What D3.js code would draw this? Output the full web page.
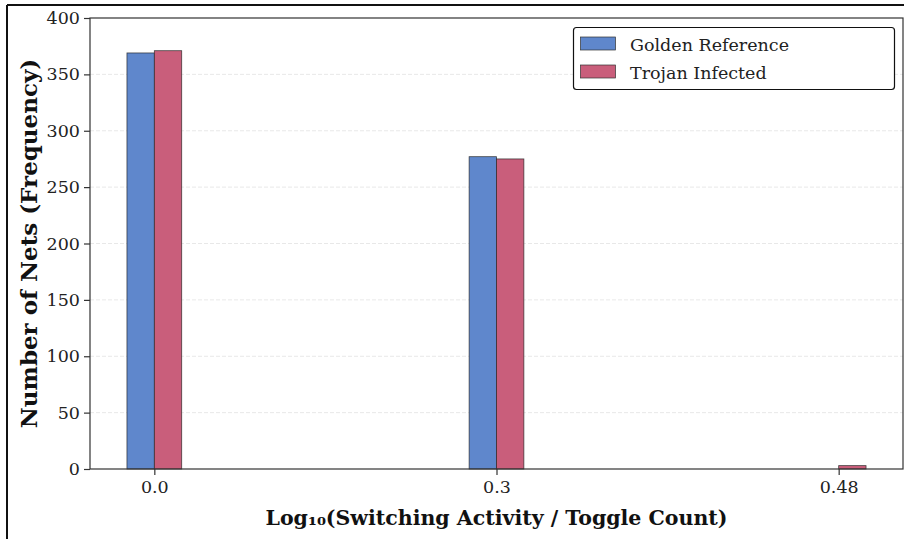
<!DOCTYPE html>
<html>
<head>
<meta charset="utf-8">
<script src="https://cdn.jsdelivr.net/npm/d3@7"></script>
<style>
  html, body { margin: 0; padding: 0; background: #fff; }
  svg { display: block; }
</style>
</head>
<body>
<svg id="chart" width="904" height="539"></svg>
<script>
const categories = ["0.0", "0.3", "0.48"];
const seriesNames = ["Golden Reference", "Trojan Infected"];
const goldenValues = [369, 277, 0];
const trojanValues = [371, 275, 3];
const yTicks = [0, 50, 100, 150, 200, 250, 300, 350, 400];
const colors = ["#5f87cc", "#c95e7b"];

const svg = d3.select("#chart");
const W = 904, H = 539;
const m = { left: 90, top: 18, right: 903, bottom: 469 };
const font = "'DejaVu Serif', serif";

// outer frame (cropped image border)
svg.append("line").attr("x1", 7).attr("x2", W).attr("y1", 5).attr("y2", 5)
  .attr("stroke", "#111").attr("stroke-width", 2);
svg.append("line").attr("x1", 7).attr("x2", 7).attr("y1", 5).attr("y2", H)
  .attr("stroke", "#111").attr("stroke-width", 2);

const x = d3.scaleLinear().domain([-0.188, 2.188]).range([m.left, m.right]);
const y = d3.scaleLinear().domain([0, 400]).range([m.bottom, m.top]);
const barW = 0.08;

// grid
svg.append("g").selectAll("line").data(yTicks.filter(d => d > 0 && d < 400)).join("line")
  .attr("x1", m.left).attr("x2", m.right)
  .attr("y1", d => y(d)).attr("y2", d => y(d))
  .attr("stroke", "#e2e2e2").attr("stroke-width", 0.8).attr("stroke-dasharray", "4,2");

// bars
const series = [goldenValues, trojanValues];
series.forEach((vals, si) => {
  svg.append("g").selectAll("rect").data(vals).join("rect")
    .attr("x", (d, i) => x(si === 0 ? i - barW : i))
    .attr("width", x(barW) - x(0))
    .attr("y", d => y(d))
    .attr("height", d => y(0) - y(d))
    .attr("fill", colors[si])
    .attr("stroke", d => d > 0 ? "#222" : "none")
    .attr("stroke-opacity", 0.8)
    .attr("stroke-width", 0.8);
});

// axes frame
svg.append("rect").attr("x", m.left).attr("y", m.top)
  .attr("width", m.right - m.left).attr("height", m.bottom - m.top)
  .attr("fill", "none").attr("stroke", "#333").attr("stroke-width", 1.2);

// y axis
const yAxis = d3.axisLeft(y).tickValues(yTicks).tickSize(6).tickPadding(4).tickFormat(d3.format("d"));
const gy = svg.append("g").attr("transform", `translate(${m.left},0)`).call(yAxis);
gy.select(".domain").remove();
gy.selectAll("line").attr("stroke", "#333").attr("stroke-width", 1.2);
gy.selectAll("text").attr("font-family", font).attr("font-size", 17.5).attr("fill", "#222");

// x axis
const xAxis = d3.axisBottom(x).tickValues([0, 1, 2]).tickSize(6).tickPadding(6)
  .tickFormat((d, i) => categories[i]);
const gx = svg.append("g").attr("transform", `translate(0,${m.bottom})`).call(xAxis);
gx.select(".domain").remove();
gx.selectAll("line").attr("stroke", "#333").attr("stroke-width", 1.2);
gx.selectAll("text").attr("font-family", font).attr("font-size", 17.5).attr("fill", "#222");

// axis labels
svg.append("text").attr("x", (m.left + m.right) / 2).attr("y", 525)
  .attr("text-anchor", "middle").attr("font-family", font).attr("font-weight", "bold")
  .attr("font-size", 20.5).attr("fill", "#111")
  .text("Log₁₀(Switching Activity / Toggle Count)");
svg.append("text")
  .attr("transform", `translate(37,${(m.top + m.bottom) / 2}) rotate(-90)`)
  .attr("text-anchor", "middle").attr("font-family", font).attr("font-weight", "bold")
  .attr("font-size", 23).attr("fill", "#111")
  .text("Number of Nets (Frequency)");

// legend
const lg = svg.append("g");
lg.append("rect").attr("x", 573.5).attr("y", 27.5).attr("width", 321).attr("height", 62)
  .attr("rx", 3).attr("fill", "#fff").attr("stroke", "#111").attr("stroke-width", 1.2);
seriesNames.forEach((name, i) => {
  const yy = 37 + i * 28;
  lg.append("rect").attr("x", 580.5).attr("y", yy).attr("width", 35).attr("height", 13)
    .attr("fill", colors[i]).attr("stroke", "#333").attr("stroke-width", 0.7);
  lg.append("text").attr("x", 630).attr("y", yy + 14).attr("font-family", font)
    .attr("font-size", 17.5).attr("fill", "#222").text(name);
});
</script>
</body>
</html>
